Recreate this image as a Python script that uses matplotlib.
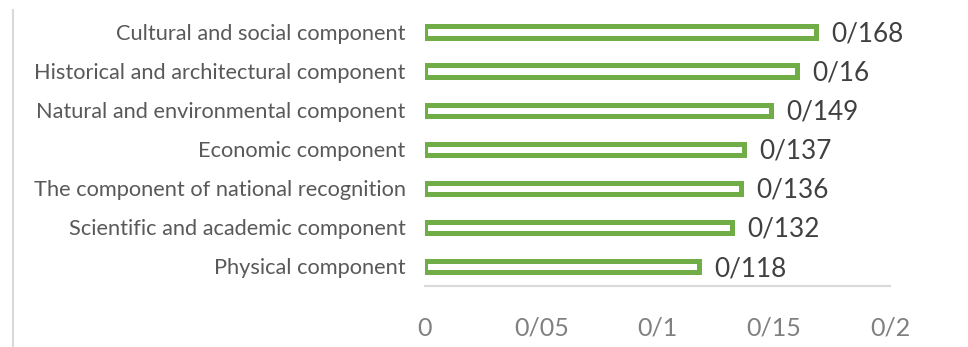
import matplotlib
matplotlib.use("Agg")
import matplotlib.pyplot as plt
from matplotlib.lines import Line2D

categories = [
    "Cultural and social component",
    "Historical and architectural component",
    "Natural and environmental component",
    "Economic component",
    "The component of national recognition",
    "Scientific and academic component",
    "Physical component",
]
values = [0.168, 0.16, 0.149, 0.137, 0.136, 0.132, 0.118]
value_labels = ["0/168", "0/16", "0/149", "0/137", "0/136", "0/132", "0/118"]
xticks = [0, 0.05, 0.1, 0.15, 0.2]
xtick_labels = ["0", "0/05", "0/1", "0/15", "0/2"]

plt.rcParams["font.family"] = ["Lato", "DejaVu Sans"]

W, H = 968, 347
fig = plt.figure(figsize=(W / 100, H / 100), dpi=100)
ax = fig.add_axes([425 / W, 1 - 286 / H, (890 - 425) / W, (286 - 12.5) / H])

green = "#70AD47"
ypos = list(range(len(categories)))
ax.barh(ypos, values, height=0.29, color="white", edgecolor=green,
        linewidth=3.6, zorder=3)

for y, v, lab in zip(ypos, values, value_labels):
    ax.annotate(lab, (v, y), xytext=(11, -1.5), textcoords="offset points",
                ha="left", va="center", fontsize=18.8, color="#404040")

ax.set_xlim(0, 0.2)
ax.set_ylim(len(categories) - 0.5, -0.5)
ax.set_yticks(ypos)
ax.set_yticklabels(categories, fontsize=15.7, color="#595959")
ax.set_xticks(xticks)
ax.set_xticklabels(xtick_labels, fontsize=18, color="#808080")
ax.tick_params(axis="y", length=0, pad=14)
ax.tick_params(axis="x", length=0, pad=22)

for side in ["top", "right", "left"]:
    ax.spines[side].set_visible(False)
ax.spines["bottom"].set_color("#d9d9d9")
ax.spines["bottom"].set_linewidth(1.5)
ax.set_facecolor("none")

# light frame edge on the left side of the figure
fig.add_artist(Line2D([12.5 / W, 12.5 / W], [0, 1 - 10 / H],
                      transform=fig.transFigure, color="#d9d9d9", linewidth=1.5))

fig.savefig("out.png", dpi=100)
